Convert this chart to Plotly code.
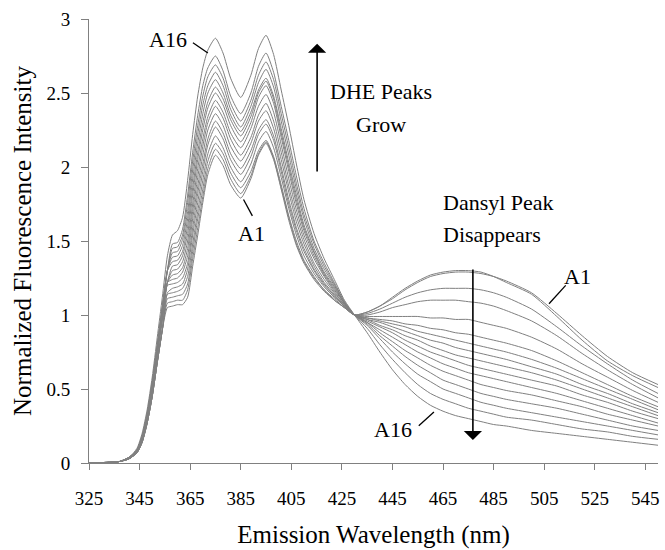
import plotly.graph_objects as go

# Emission wavelength grid (nm)
wavelength = [325, 337, 341, 344, 346, 348, 350, 352, 354, 356, 358, 360, 362, 364, 366, 368,
              370, 372, 375, 378, 381, 385, 389, 392, 395, 398, 401, 404, 407, 410, 414, 418,
              422, 426, 430, 435, 440, 445, 450, 455, 460, 465, 470, 475, 480, 485, 490, 500,
              510, 520, 530, 540, 550]

# Normalized fluorescence intensity of spectra A1 ... A16
A1 = [0, 0.01, 0.03, 0.07, 0.14, 0.27, 0.45, 0.68, 0.90, 1.05, 1.06, 1.07, 1.07, 1.12, 1.33, 1.54, 1.76, 1.95,
      2.08, 2.01, 1.88, 1.79, 1.92, 2.08, 2.16, 2.05, 1.85, 1.64, 1.47, 1.35, 1.24, 1.16, 1.10, 1.05,
      1.00, 1.02, 1.06, 1.12, 1.18, 1.23, 1.27, 1.29, 1.30, 1.30, 1.29, 1.26, 1.22, 1.14, 0.99, 0.83, 0.69, 0.59, 0.51]
A2 = [0, 0.01, 0.03, 0.07, 0.14, 0.27, 0.45, 0.68, 0.90, 1.08, 1.09, 1.10, 1.10, 1.17, 1.38, 1.59, 1.80, 1.99,
      2.12, 2.05, 1.92, 1.82, 1.94, 2.09, 2.17, 2.06, 1.86, 1.66, 1.48, 1.36, 1.25, 1.17, 1.10, 1.05,
      1.00, 1.02, 1.06, 1.11, 1.17, 1.22, 1.26, 1.28, 1.29, 1.29, 1.28, 1.26, 1.23, 1.15, 1.01, 0.86, 0.72, 0.61, 0.53]
A3 = [0, 0.01, 0.03, 0.07, 0.14, 0.27, 0.45, 0.68, 0.90, 1.11, 1.12, 1.13, 1.14, 1.21, 1.43, 1.65, 1.85, 2.04,
      2.16, 2.09, 1.96, 1.86, 1.97, 2.11, 2.18, 2.07, 1.88, 1.67, 1.50, 1.37, 1.26, 1.17, 1.11, 1.05,
      1.00, 1.01, 1.04, 1.08, 1.12, 1.15, 1.17, 1.18, 1.18, 1.18, 1.17, 1.15, 1.12, 1.04, 0.92, 0.79, 0.67, 0.56, 0.47]
A4 = [0, 0.01, 0.03, 0.07, 0.14, 0.27, 0.45, 0.68, 0.90, 1.14, 1.15, 1.16, 1.18, 1.26, 1.48, 1.70, 1.91, 2.09,
      2.21, 2.13, 2.00, 1.90, 2.02, 2.17, 2.24, 2.13, 1.93, 1.72, 1.54, 1.40, 1.28, 1.19, 1.12, 1.06,
      1.00, 1.00, 1.02, 1.05, 1.07, 1.09, 1.10, 1.10, 1.10, 1.09, 1.08, 1.06, 1.03, 0.96, 0.86, 0.74, 0.63, 0.53, 0.44]
A5 = [0, 0.01, 0.03, 0.07, 0.14, 0.27, 0.45, 0.68, 0.90, 1.15, 1.18, 1.19, 1.21, 1.31, 1.54, 1.76, 1.97, 2.15,
      2.27, 2.19, 2.05, 1.95, 2.07, 2.22, 2.29, 2.18, 1.97, 1.75, 1.57, 1.43, 1.30, 1.20, 1.13, 1.06,
      1.00, 0.99, 0.99, 0.99, 0.99, 0.99, 0.98, 0.98, 0.97, 0.97, 0.95, 0.93, 0.91, 0.85, 0.77, 0.67, 0.58, 0.49, 0.41]
A6 = [0, 0.01, 0.03, 0.08, 0.16, 0.30, 0.50, 0.74, 0.98, 1.20, 1.21, 1.22, 1.25, 1.35, 1.59, 1.82, 2.02, 2.19,
      2.31, 2.23, 2.09, 1.99, 2.11, 2.25, 2.32, 2.21, 2.00, 1.78, 1.59, 1.45, 1.31, 1.21, 1.13, 1.06,
      1.00, 0.98, 0.97, 0.96, 0.94, 0.93, 0.91, 0.90, 0.88, 0.87, 0.85, 0.83, 0.81, 0.76, 0.69, 0.61, 0.53, 0.45, 0.38]
A7 = [0, 0.01, 0.03, 0.08, 0.16, 0.30, 0.50, 0.74, 0.98, 1.22, 1.24, 1.25, 1.29, 1.40, 1.65, 1.87, 2.08, 2.25,
      2.36, 2.28, 2.14, 2.04, 2.16, 2.31, 2.38, 2.26, 2.05, 1.83, 1.63, 1.48, 1.33, 1.22, 1.14, 1.06,
      1.00, 0.98, 0.96, 0.94, 0.92, 0.89, 0.87, 0.85, 0.83, 0.81, 0.79, 0.77, 0.75, 0.70, 0.64, 0.57, 0.50, 0.43, 0.36]
A8 = [0, 0.01, 0.03, 0.08, 0.16, 0.30, 0.50, 0.74, 0.98, 1.22, 1.27, 1.28, 1.32, 1.45, 1.70, 1.93, 2.14, 2.30,
      2.41, 2.33, 2.19, 2.08, 2.20, 2.35, 2.43, 2.31, 2.10, 1.87, 1.67, 1.51, 1.35, 1.24, 1.15, 1.07,
      1.00, 0.97, 0.95, 0.92, 0.89, 0.86, 0.83, 0.81, 0.78, 0.76, 0.74, 0.72, 0.70, 0.65, 0.60, 0.53, 0.47, 0.40, 0.34]
A9 = [0, 0.01, 0.03, 0.08, 0.16, 0.30, 0.50, 0.74, 0.98, 1.22, 1.30, 1.31, 1.36, 1.50, 1.75, 1.99, 2.19, 2.34,
      2.45, 2.37, 2.23, 2.13, 2.26, 2.41, 2.49, 2.37, 2.15, 1.92, 1.71, 1.54, 1.38, 1.26, 1.16, 1.07,
      1.00, 0.97, 0.93, 0.90, 0.86, 0.83, 0.79, 0.76, 0.73, 0.71, 0.69, 0.67, 0.65, 0.61, 0.56, 0.50, 0.44, 0.38, 0.32]
A10 = [0, 0.01, 0.03, 0.08, 0.16, 0.30, 0.50, 0.74, 0.98, 1.22, 1.33, 1.34, 1.40, 1.55, 1.81, 2.05, 2.25, 2.40,
       2.50, 2.42, 2.28, 2.17, 2.30, 2.47, 2.55, 2.43, 2.20, 1.97, 1.75, 1.57, 1.40, 1.27, 1.17, 1.08,
       1.00, 0.96, 0.92, 0.88, 0.83, 0.79, 0.75, 0.72, 0.69, 0.66, 0.64, 0.62, 0.60, 0.56, 0.52, 0.46, 0.41, 0.35, 0.30]
A11 = [0, 0.01, 0.04, 0.09, 0.18, 0.33, 0.54, 0.79, 1.05, 1.30, 1.36, 1.37, 1.43, 1.60, 1.86, 2.10, 2.30, 2.44,
       2.54, 2.46, 2.32, 2.21, 2.34, 2.50, 2.58, 2.46, 2.23, 2.00, 1.78, 1.59, 1.42, 1.28, 1.18, 1.08,
       1.00, 0.95, 0.90, 0.85, 0.80, 0.75, 0.71, 0.67, 0.64, 0.61, 0.59, 0.57, 0.55, 0.51, 0.47, 0.42, 0.37, 0.32, 0.27]
A12 = [0, 0.01, 0.04, 0.09, 0.18, 0.33, 0.54, 0.79, 1.05, 1.30, 1.39, 1.40, 1.47, 1.65, 1.92, 2.16, 2.36, 2.50,
       2.59, 2.50, 2.35, 2.24, 2.37, 2.52, 2.60, 2.48, 2.26, 2.03, 1.81, 1.61, 1.43, 1.29, 1.19, 1.08,
       1.00, 0.95, 0.88, 0.82, 0.76, 0.71, 0.66, 0.62, 0.59, 0.56, 0.53, 0.51, 0.49, 0.46, 0.42, 0.38, 0.33, 0.29, 0.25]
A13 = [0, 0.01, 0.04, 0.09, 0.18, 0.33, 0.54, 0.79, 1.05, 1.30, 1.42, 1.43, 1.51, 1.70, 1.98, 2.22, 2.42, 2.55,
       2.64, 2.55, 2.39, 2.27, 2.41, 2.57, 2.66, 2.54, 2.31, 2.08, 1.85, 1.65, 1.45, 1.31, 1.20, 1.08,
       1.00, 0.94, 0.86, 0.79, 0.72, 0.66, 0.61, 0.56, 0.53, 0.50, 0.47, 0.45, 0.43, 0.40, 0.37, 0.33, 0.29, 0.25, 0.22]
A14 = [0, 0.01, 0.04, 0.09, 0.18, 0.33, 0.54, 0.79, 1.05, 1.30, 1.45, 1.46, 1.54, 1.76, 2.04, 2.28, 2.48, 2.61,
       2.69, 2.60, 2.43, 2.31, 2.45, 2.62, 2.71, 2.59, 2.36, 2.13, 1.89, 1.68, 1.48, 1.33, 1.21, 1.09,
       1.00, 0.93, 0.84, 0.75, 0.67, 0.60, 0.55, 0.50, 0.47, 0.44, 0.41, 0.39, 0.37, 0.34, 0.31, 0.28, 0.25, 0.22, 0.19]
A15 = [0, 0.01, 0.04, 0.09, 0.18, 0.33, 0.54, 0.79, 1.05, 1.30, 1.48, 1.49, 1.58, 1.81, 2.10, 2.35, 2.55, 2.67,
       2.75, 2.65, 2.48, 2.36, 2.50, 2.68, 2.77, 2.64, 2.41, 2.18, 1.94, 1.72, 1.50, 1.35, 1.22, 1.09,
       1.00, 0.91, 0.80, 0.70, 0.61, 0.53, 0.47, 0.43, 0.40, 0.37, 0.35, 0.33, 0.31, 0.29, 0.26, 0.23, 0.21, 0.18, 0.16]
A16 = [0, 0.01, 0.04, 0.10, 0.20, 0.36, 0.58, 0.85, 1.12, 1.40, 1.54, 1.57, 1.66, 1.91, 2.22, 2.48, 2.67, 2.79,
       2.87, 2.77, 2.60, 2.47, 2.62, 2.80, 2.89, 2.76, 2.52, 2.28, 2.02, 1.78, 1.55, 1.38, 1.24, 1.10,
       1.00, 0.88, 0.75, 0.63, 0.53, 0.45, 0.39, 0.35, 0.32, 0.30, 0.28, 0.26, 0.25, 0.22, 0.20, 0.18, 0.16, 0.14, 0.12]

series_names = ["A%d" % i for i in range(1, 17)]
series_values = [A1, A2, A3, A4, A5, A6, A7, A8, A9, A10, A11, A12, A13, A14, A15, A16]

x_ticks = [325, 345, 365, 385, 405, 425, 445, 465, 485, 505, 525, 545]
y_ticks = [0, 0.5, 1, 1.5, 2, 2.5, 3]
y_ticktext = ["0", "0.5", "1", "1.5", "2", "2.5", "3"]

FONT = "Liberation Serif, Times New Roman, serif"
GRAY = "#808080"

fig = go.Figure()
for name, vals in zip(series_names, series_values):
    fig.add_trace(go.Scatter(
        x=wavelength, y=vals, mode="lines", name=name, showlegend=False,
        line=dict(color=GRAY, width=1, shape="spline", smoothing=0.6),
    ))

# text labels (data coordinates): text, x, y, horizontal anchor
texts = [
    ("A16", 356.2, 2.86, "center"),
    ("A1", 389.2, 1.55, "center"),
    ("DHE Peaks", 440.4, 2.508, "center"),
    ("Grow", 440.4, 2.285, "center"),
    ("Dansyl Peak", 464.1, 1.759, "left"),
    ("Disappears", 464.1, 1.546, "left"),
    ("A1", 518.2, 1.259, "center"),
    ("A16", 445.4, 0.229, "center"),
]
annotations = []
for t, tx, ty, anchor in texts:
    annotations.append(dict(x=tx, y=ty, xref="x", yref="y", text=t, showarrow=False,
                            xanchor=anchor, font=dict(family=FONT, size=22, color="black")))

# arrows (tail -> head)
arrows = [
    ((415.2, 1.96), (415.2, 2.833)),
    ((476.8, 1.317), (476.8, 0.155)),
]
for (x0, y0), (x1, y1) in arrows:
    annotations.append(dict(x=x1, y=y1, ax=x0, ay=y0, xref="x", yref="y", axref="x", ayref="y",
                            text="", showarrow=True, arrowhead=1, arrowsize=1.9, arrowwidth=1.6,
                            arrowcolor="black", standoff=0, startstandoff=0))

# leader lines for curve labels
leaders = [
    ((366.1, 2.84), (372.0, 2.77)),
    ((386.1, 1.78), (389.6, 1.67)),
    ((513.5, 1.20), (506.9, 1.076)),
    ((455.4, 0.252), (461.4, 0.344)),
]
shapes = []
for (x0, y0), (x1, y1) in leaders:
    shapes.append(dict(type="line", xref="x", yref="y", x0=x0, y0=y0, x1=x1, y1=y1,
                       line=dict(color="black", width=1.3)))

fig.update_layout(
    width=665, height=550,
    margin=dict(l=89, r=5, t=19, b=87),
    paper_bgcolor="white", plot_bgcolor="white",
    font=dict(family=FONT, color="black"),
    annotations=annotations, shapes=shapes,
    xaxis=dict(
        range=[325, 550], tickmode="array", tickvals=x_ticks,
        ticks="outside", ticklen=6, tickcolor=GRAY, tickwidth=1,
        showline=True, linecolor=GRAY, linewidth=1, showgrid=False, zeroline=False,
        ticklabelstandoff=12,
        tickfont=dict(family=FONT, size=19, color="black"),
        title=dict(text="Emission Wavelength (nm)", font=dict(family=FONT, size=25, color="black"), standoff=17),
    ),
    yaxis=dict(
        range=[0, 3], tickmode="array", tickvals=y_ticks, ticktext=y_ticktext,
        ticks="outside", ticklen=7, tickcolor=GRAY, tickwidth=1,
        showline=True, linecolor=GRAY, linewidth=1, showgrid=False, zeroline=False,
        ticklabelstandoff=7,
        tickfont=dict(family=FONT, size=19, color="black"),
        title=dict(text="Normalized Fluorescence Intensity", font=dict(family=FONT, size=25, color="black"), standoff=7),
    ),
)

fig.write_html("out.html")
